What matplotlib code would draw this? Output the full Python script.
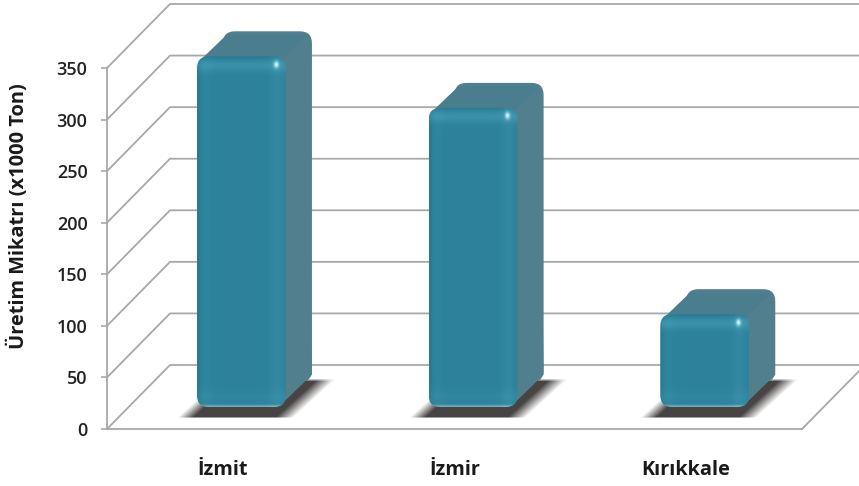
import numpy as np
import matplotlib
matplotlib.use('Agg')
import matplotlib.pyplot as plt
from matplotlib.patches import FancyBboxPatch, Polygon

categories = ['İzmit', 'İzmir', 'Kırıkkale']
values = [340, 290, 90]
y_ticks = [0, 50, 100, 150, 200, 250, 300, 350]
y_label = 'Üretim Mikatrı (x1000 Ton)'

plt.rcParams['font.family'] = ['Open Sans', 'DejaVu Sans']

fig = plt.figure(figsize=(8.59, 4.86), dpi=100)
ax = fig.add_axes([107 / 859, 57 / 486, 695 / 859, 361 / 486])
ax.set_xlim(-0.5, 2.5)
ax.set_ylim(0, 350)

# size of one pixel in data units
PX = 3 / 695
PY = 350 / 361
GRID = '#a8a8a8'

# depth of the floor and of the bars
wall_dx, wall_dy = 63 * PX, 64 * PY
bar_dx, bar_dy = 18.6 * PX, 22 * PY
side_dx, side_dy = 26 * PX, 25 * PY
bar_w = 89 * PX
corner = 12 * PX
corner_aspect = PY / PX


def gauss(d, s):
    return np.exp(-(d / s) ** 2)


def front_image(w, h):
    # bevelled front of a bar, one array cell per pixel
    yy, xx = np.mgrid[0:h, 0:w].astype(float)
    img = np.zeros((h, w, 3)) + np.array([45, 129, 154])
    right = w - 1 - xx
    bottom = h - 1 - yy
    img += gauss(right - 9, 7)[..., None] * np.array([6, 8, 8])
    img += gauss(xx - 8, 6)[..., None] * np.array([2, 4, 4])
    img += gauss(xx, 3)[..., None] * np.array([-4, -8, -10])
    img += gauss(yy - 9, 6)[..., None] * np.array([14, 16, 16])
    img += gauss(yy, 3)[..., None] * np.array([-6, -8, -8])
    img += gauss(bottom - 10, 6)[..., None] * np.array([4, 6, 6])
    img += gauss(bottom, 1.5)[..., None] * np.array([70, 45, 30])
    spot = gauss(np.hypot((right - 10) / 0.7, yy - 8), 3.4)[..., None]
    img = img * (1 - spot) + np.array([205, 250, 255]) * spot
    return np.clip(img, 0, 255) / 255


def shadow_image():
    # soft slanted shadow lying on the floor
    h, w = 40, 160
    yy, xx = np.mgrid[0:h, 0:w].astype(float)
    u = xx - (h - 1 - yy) * 1.1
    a = np.clip(u / 16, 0, 1) * np.clip((116 - u) / 18, 0, 1)
    a = a * np.clip((h - 0.2 - yy) / 1.5, 0, 1) * np.clip(yy / 3, 0, 1)
    img = np.zeros((h, w, 4))
    img[..., :3] = np.array([72, 69, 67]) / 255
    img[..., 3] = a
    return img


def draw_bar(i, value):
    x0 = i + bar_dx - bar_w / 2
    x1 = x0 + bar_w
    y0 = bar_dy
    y1 = y0 + value

    # shadow
    left = x0 - 20 * PX
    ax.imshow(shadow_image(), extent=(left, left + 160 * PX, y0 - 11 * PY, y0 + 29 * PY),
              aspect='auto', zorder=2, clip_on=False, interpolation='bilinear')

    # back of the bar, top face and side face
    ax.add_patch(FancyBboxPatch((x0 + side_dx, y0 + side_dy), bar_w, value,
                                boxstyle='round,pad=0,rounding_size=%f' % corner,
                                mutation_aspect=corner_aspect, fc='#527f8d', ec='none',
                                zorder=3, clip_on=False))
    cx, cy = corner * 0.3, corner * 0.3 * corner_aspect
    ax.add_patch(Polygon([(x0 + cx, y1 - cy), (x0 + side_dx + cx, y1 + side_dy - cy),
                          (x1 + side_dx - cx, y1 + side_dy - cy), (x1 - cx, y1 - cy)],
                         fc='#4a7e8e', ec='none', zorder=3, clip_on=False))
    ax.add_patch(Polygon([(x1 - cx, y1 - cy), (x1 + side_dx - cx, y1 + side_dy - cy),
                          (x1 + side_dx, y0 + side_dy + 2 * cy), (x1 - cx, y0 + cy)],
                         fc='#527f8d', ec='none', zorder=3, clip_on=False))

    # front face
    box = FancyBboxPatch((x0, y0), bar_w, value,
                         boxstyle='round,pad=0,rounding_size=%f' % corner,
                         mutation_aspect=corner_aspect, fc='none', ec='none',
                         zorder=4, clip_on=False)
    ax.add_patch(box)
    w_px, h_px = int(round(bar_w / PX)), int(round(value / PY))
    im = ax.imshow(front_image(w_px, h_px), extent=(x0, x1, y0, y1), aspect='auto',
                   zorder=4, interpolation='bilinear')
    im.set_clip_box(fig.bbox)
    im.set_clip_path(box)


# walls and floor lines
for t in y_ticks:
    ax.plot([-0.5, -0.5 + wall_dx, 2.5 + wall_dx], [t, t + wall_dy, t + wall_dy],
            color=GRID, lw=1.3, clip_on=False, zorder=1)
ax.plot([2.5, 2.5 + wall_dx], [0, wall_dy], color=GRID, lw=1.3, clip_on=False, zorder=1)

for i, v in enumerate(values):
    draw_bar(i, v)

ax.set_xlim(-0.5, 2.5)
ax.set_ylim(0, 350)
ax.patch.set_visible(False)
for name in ['top', 'right']:
    ax.spines[name].set_visible(False)
for name in ['left', 'bottom']:
    ax.spines[name].set_color(GRID)
    ax.spines[name].set_linewidth(1.3)
    ax.spines[name].set_zorder(1)

ax.set_yticks(y_ticks)
ax.set_xticks(range(len(categories)))
ax.set_xticklabels(categories, fontsize=14.3, fontweight='bold', color='#1a1a1a')
ax.tick_params(axis='x', length=0, pad=22)
ax.tick_params(axis='y', length=4, width=1.2, color=GRID, pad=10, labelsize=13,
               labelcolor='#222222')
for lab in ax.get_yticklabels():
    lab.set_fontweight('semibold')
ax.set_ylabel(y_label, fontsize=14.4, fontweight='bold', color='#1a1a1a')
ax.yaxis.set_label_coords(-78 / 695, 0.59)

fig.savefig('out.png', dpi=100)
